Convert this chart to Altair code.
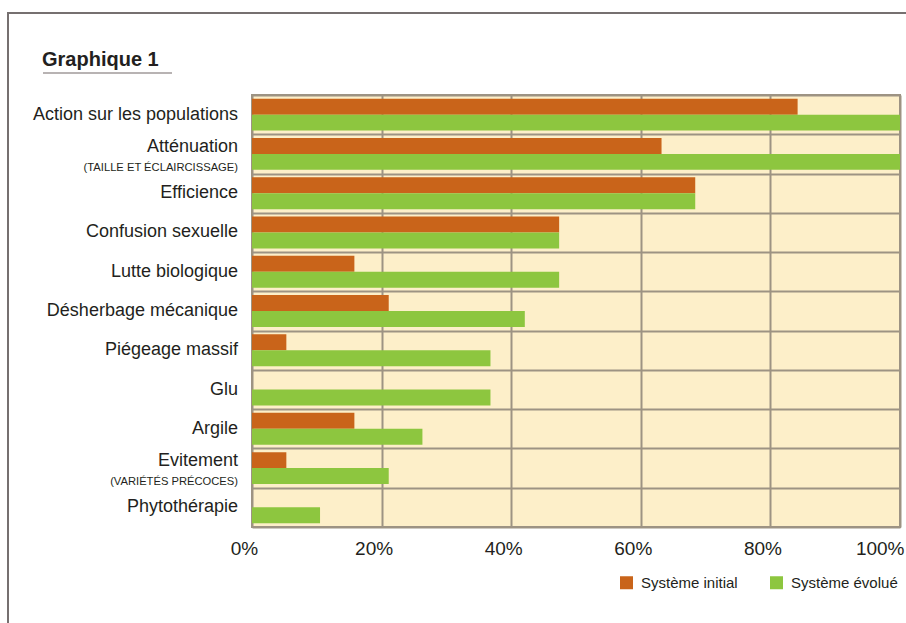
import altair as alt
import pandas as pd

categories = ["Action sur les populations", "Atténuation", "Efficience", "Confusion sexuelle",
              "Lutte biologique", "Désherbage mécanique", "Piégeage massif", "Glu", "Argile",
              "Evitement", "Phytothérapie"]
subtitles = ["", "(TAILLE ET ÉCLAIRCISSAGE)", "", "", "", "", "", "", "", "(VARIÉTÉS PRÉCOCES)", ""]
series_names = ["Système initial", "Système évolué"]
initial = [84.2, 63.2, 68.4, 47.4, 15.8, 21.1, 5.3, 0, 15.8, 5.3, 0]
evolved = [100, 100, 68.4, 47.4, 47.4, 42.1, 36.8, 36.8, 26.3, 21.1, 10.5]
tick_values = [0, 20, 40, 60, 80, 100]
title_text = "Graphique 1"

ORANGE = "#C9641A"
GREEN = "#8DC63F"
CREAM = "#FDEFC9"
GRID = "#9D9383"
FRAME = "#767070"
TEXT = "#231F20"
FONT = "'Liberation Sans', Arial, sans-serif"

rows = []
for c, a, b in zip(categories, initial, evolved):
    rows.append({"cat": c, "series": series_names[0], "value": a})
    rows.append({"cat": c, "series": series_names[1], "value": b})
bars_df = pd.DataFrame(rows)
labels_df = pd.DataFrame({"cat": categories, "sub": subtitles})

yenc = alt.Y("cat:N", sort=categories,
             scale=alt.Scale(paddingInner=0, paddingOuter=0),
             axis=alt.Axis(labels=False, ticks=False, domain=False, title=None,
                           grid=True, tickBand="extent", gridColor=GRID, gridWidth=2))

bars = alt.Chart(bars_df).mark_bar().encode(
    x=alt.X("value:Q", scale=alt.Scale(domain=[0, 100], nice=False),
            axis=alt.Axis(values=tick_values, labelExpr="datum.value + '%'", title=None,
                          ticks=False, domain=False, grid=True, gridColor=GRID, gridWidth=2,
                          labelFont=FONT, labelFontSize=19, labelColor=TEXT,
                          labelPadding=12, labelFlush=False,
                          labelAlign=alt.condition("datum.value == 100", alt.value("right"), alt.value("center")),
                          labelOffset=alt.condition("datum.value == 100", alt.value(4), alt.value(-8)))),
    y=yenc,
    yOffset=alt.YOffset("series:N", sort=series_names,
                        scale=alt.Scale(paddingOuter=0.23, paddingInner=0)),
    color=alt.Color("series:N", sort=series_names,
                    scale=alt.Scale(domain=series_names, range=[ORANGE, GREEN]),
                    legend=alt.Legend(title=None, orient="none", direction="horizontal",
                                      legendX=367, legendY=480, symbolType="square",
                                      symbolSize=169, symbolStrokeWidth=0,
                                      labelFont=FONT, labelFontSize=15, labelColor=TEXT,
                                      labelOffset=7, columnPadding=31)),
)

single = alt.Chart(labels_df).transform_filter("datum.sub == ''").mark_text(
    align="right", baseline="middle", font=FONT, fontSize=18, color=TEXT
).encode(x=alt.value(-14), y=alt.Y("cat:N", sort=categories), text="cat:N")

main2 = alt.Chart(labels_df).transform_filter("datum.sub != ''").mark_text(
    align="right", baseline="middle", font=FONT, fontSize=18, color=TEXT, dy=-7
).encode(x=alt.value(-14), y=alt.Y("cat:N", sort=categories), text="cat:N")

sub2 = alt.Chart(labels_df).transform_filter("datum.sub != ''").mark_text(
    align="right", baseline="middle", font=FONT, fontSize=11.2, color=TEXT, dy=14
).encode(x=alt.value(-14), y=alt.Y("cat:N", sort=categories), text="sub:N")

title = alt.Chart(pd.DataFrame({"t": [title_text]})).mark_text(
    align="left", baseline="alphabetic", font=FONT,
    fontSize=20, fontWeight="bold", color=TEXT
).encode(x=alt.value(-210), y=alt.value(-29), text="t:N")

underline = alt.Chart(pd.DataFrame({"t": [title_text]})).mark_rule(
    color="#A09A9A", strokeWidth=1.5
).encode(x=alt.value(-209), x2=alt.value(-80), y=alt.value(-22))

frame_left = alt.Chart(pd.DataFrame({"t": [0]})).mark_rule(
    color=FRAME, strokeWidth=2
).encode(x=alt.value(-244), y=alt.value(-82), y2=alt.value(540))

frame_top = alt.Chart(pd.DataFrame({"t": [0]})).mark_rule(
    color=FRAME, strokeWidth=2
).encode(x=alt.value(-245), x2=alt.value(660), y=alt.value(-82))

chart = alt.layer(bars, single, main2, sub2, title, underline, frame_left, frame_top).properties(
    width=648, height=432,
    autosize=alt.AutoSizeParams(type="none"),
    padding={"left": 252, "top": 95, "right": 6, "bottom": 96},
    background="white",
).configure_view(
    fill=CREAM, stroke=GRID, strokeWidth=2
)

chart.save("out.html", embed_options={"renderer": "svg", "actions": False})
